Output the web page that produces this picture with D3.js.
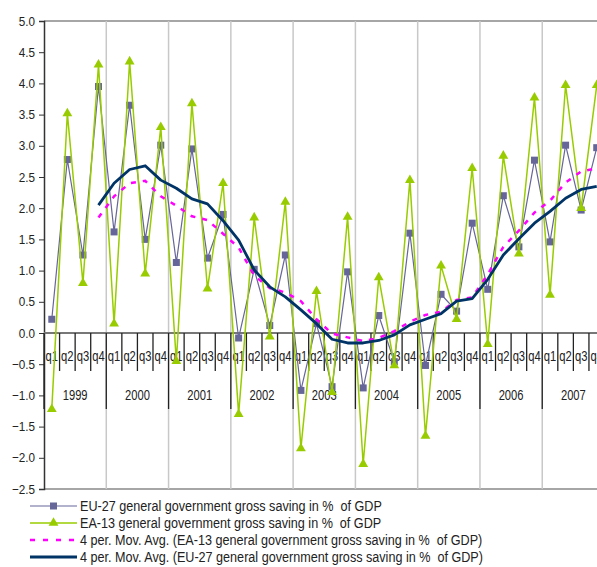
<!DOCTYPE html>
<html>
<head>
<meta charset="utf-8">
<script src="https://cdn.jsdelivr.net/npm/d3@7/dist/d3.min.js"></script>
<style>
  body { margin: 0; background: #fff; }
  svg { display: block; font-family: "Liberation Sans", Arial, sans-serif; }
</style>
</head>
<body>
<svg width="597" height="567"></svg>
<script>
// quarters 1999q1 .. 2007q4
const years = ["1999", "2000", "2001", "2002", "2003", "2004", "2005", "2006", "2007"];
const quarterNames = ["q1", "q2", "q3", "q4"];

// EU-27 general government gross saving in % of GDP
const eu27 = [0.22, 2.78, 1.25, 3.95, 1.62, 3.65, 1.50, 3.01, 1.13, 2.95, 1.20, 1.90,
  -0.08, 1.02, 0.12, 1.25, -0.92, 0.15, -0.86, 0.98, -0.88, 0.28, -0.46, 1.60,
  -0.52, 0.62, 0.35, 1.76, 0.70, 2.20, 1.38, 2.77, 1.46, 3.01, 1.97, 2.97];

// EA-13 general government gross saving in % of GDP
const ea13 = [-1.22, 3.52, 0.80, 4.30, 0.15, 4.35, 0.95, 3.30, -0.45, 3.68, 0.71, 2.40,
  -1.30, 1.85, -0.06, 2.10, -1.85, 0.67, -0.95, 1.86, -2.10, 0.89, -0.52, 2.45,
  -1.65, 1.08, 0.22, 2.64, -0.18, 2.84, 1.27, 3.77, 0.61, 3.97, 2.00, 3.97];

// 4 period moving averages (start at 1999q4)
const eu27Avg = [null, null, null, 2.05, 2.40, 2.62, 2.68, 2.45, 2.32, 2.15, 2.07, 1.80,
  1.49, 1.01, 0.74, 0.58, 0.37, 0.15, -0.10, -0.16, -0.16, -0.12, -0.03, 0.13,
  0.22, 0.31, 0.51, 0.55, 0.86, 1.25, 1.51, 1.76, 1.95, 2.16, 2.30, 2.35];
const ea13Avg = [null, null, null, 1.85, 2.19, 2.40, 2.44, 2.19, 2.04, 1.87, 1.81, 1.59,
  1.37, 0.92, 0.72, 0.65, 0.51, 0.22, -0.01, -0.07, -0.13, -0.08, 0.03, 0.18,
  0.29, 0.34, 0.53, 0.57, 0.94, 1.38, 1.64, 1.93, 2.12, 2.41, 2.59, 2.64];

const yTicks = [5.0, 4.5, 4.0, 3.5, 3.0, 2.5, 2.0, 1.5, 1.0, 0.5, 0.0, -0.5, -1.0, -1.5, -2.0, -2.5];

const legendLabels = [
  "EU-27 general government gross saving in %  of GDP",
  "EA-13 general government gross saving in %  of GDP",
  "4 per. Mov. Avg. (EA-13 general government gross saving in %  of GDP)",
  "4 per. Mov. Avg. (EU-27 general government gross saving in %  of GDP)"
];

// squeeze text horizontally to look like the narrow font of the original
function condense(sel, factor) {
  sel.each(function () {
    let w = this.getComputedTextLength();
    d3.select(this).attr("textLength", w * factor).attr("lengthAdjust", "spacingAndGlyphs");
  });
}

function run() {
  let svg = d3.select("svg");
  let left = 44, top = 21, bottom = 489;
  let qWidth = 15.57;

  let quarters = [];
  years.forEach(y => quarterNames.forEach(q => quarters.push(y + q)));

  let x = d3.scaleBand().domain(quarters).range([left, left + qWidth * quarters.length]);
  let y = d3.scaleLinear().domain([-2.5, 5]).range([bottom, top]);
  let cx = i => x(quarters[i]) + x.bandwidth() / 2;

  let colEU = "#666699", colEA = "#99cc00", colEAavg = "#ff00ff", colEUavg = "#003366";

  // frame: top and bottom grey lines
  svg.append("line").attr("x1", left).attr("x2", 597).attr("y1", top).attr("y2", top)
    .attr("stroke", "#888").attr("stroke-width", 1.5);
  svg.append("line").attr("x1", left).attr("x2", 597).attr("y1", bottom).attr("y2", bottom)
    .attr("stroke", "#888").attr("stroke-width", 1.5);

  // vertical gridlines at year boundaries
  svg.append("g").selectAll("line")
    .data(years.slice(1))
    .join("line")
    .attr("x1", d => x(d + "q1")).attr("x2", d => x(d + "q1"))
    .attr("y1", top).attr("y2", bottom)
    .attr("stroke", "#c8c8c8").attr("stroke-width", 1.5);

  // y axis
  let yAxis = d3.axisLeft(y).tickValues(yTicks).tickFormat(d3.format(".1f")).tickSize(5).tickPadding(4);
  let ya = svg.append("g").attr("transform", `translate(${left},0)`).call(yAxis);
  ya.select(".domain").attr("stroke", "#333").attr("stroke-width", 1.5);
  ya.selectAll(".tick line").attr("stroke", "#333");
  ya.selectAll("text").attr("font-size", 13).attr("fill", "#222")
    .style("font-family", "'Liberation Sans', Arial, sans-serif")
    .call(condense, 0.9);

  // category axis at zero
  let y0 = y(0);
  svg.append("line").attr("x1", left).attr("x2", 597).attr("y1", y0).attr("y2", y0)
    .attr("stroke", "#777").attr("stroke-width", 2);

  let xg = svg.append("g");
  xg.selectAll("line.q")
    .data(quarters)
    .join("line")
    .attr("class", "q")
    .attr("x1", d => x(d)).attr("x2", d => x(d))
    .attr("y1", y0).attr("y2", d => d.endsWith("q1") ? y0 + 76 : y0 + 38)
    .attr("stroke", "#222").attr("stroke-width", 1.3);
  xg.selectAll("text.q")
    .data(quarters)
    .join("text")
    .attr("class", "q")
    .attr("x", d => x(d) + x.bandwidth() / 2)
    .attr("y", y0 + 28)
    .attr("text-anchor", "middle")
    .attr("font-size", 14)
    .attr("fill", "#222")
    .text(d => d.slice(4))
    .call(condense, 0.8);
  xg.selectAll("text.yr")
    .data(years)
    .join("text")
    .attr("class", "yr")
    .attr("x", d => x(d + "q1") + x.bandwidth() * 2)
    .attr("y", y0 + 67)
    .attr("text-anchor", "middle")
    .attr("font-size", 14)
    .attr("fill", "#222")
    .text(d => d)
    .call(condense, 0.8);

  let line = d3.line()
    .defined(d => d != null)
    .x((d, i) => cx(i))
    .y(d => y(d));

  let tri = d3.symbol().type(d3.symbolTriangle).size(42);

  // EU-27 series
  svg.append("path").datum(eu27).attr("d", line)
    .attr("fill", "none").attr("stroke", colEU).attr("stroke-width", 1.2);
  svg.append("g").selectAll("rect")
    .data(eu27)
    .join("rect")
    .attr("x", (d, i) => cx(i) - 3.5).attr("y", d => y(d) - 3.5)
    .attr("width", 7).attr("height", 7)
    .attr("fill", colEU);

  // EA-13 series
  svg.append("path").datum(ea13).attr("d", line)
    .attr("fill", "none").attr("stroke", colEA).attr("stroke-width", 1.5);
  svg.append("g").selectAll("path")
    .data(ea13)
    .join("path")
    .attr("d", tri)
    .attr("transform", (d, i) => `translate(${cx(i)},${y(d)})`)
    .attr("fill", colEA);

  // moving averages
  svg.append("path").datum(ea13Avg).attr("d", line)
    .attr("fill", "none").attr("stroke", colEAavg).attr("stroke-width", 2.5)
    .attr("stroke-dasharray", "5,7");
  svg.append("path").datum(eu27Avg).attr("d", line)
    .attr("fill", "none").attr("stroke", colEUavg).attr("stroke-width", 2.8)
    .attr("stroke-linejoin", "round");

  // legend
  let lg = svg.append("g").selectAll("g")
    .data(legendLabels)
    .join("g")
    .attr("transform", (d, i) => `translate(0,${506 + i * 17})`);
  lg.append("line")
    .attr("x1", 30).attr("x2", 77).attr("y1", 0).attr("y2", 0)
    .attr("stroke", (d, i) => [colEU, colEA, colEAavg, colEUavg][i])
    .attr("stroke-width", (d, i) => [1.2, 1.5, 2.5, 2.8][i])
    .attr("stroke-dasharray", (d, i) => i == 2 ? "5,8" : null);
  lg.filter((d, i) => i == 0).append("rect")
    .attr("x", 50).attr("y", -3.5).attr("width", 7).attr("height", 7).attr("fill", colEU);
  lg.filter((d, i) => i == 1).append("path")
    .attr("d", tri).attr("transform", "translate(53.5,0)").attr("fill", colEA);
  lg.append("text")
    .attr("x", 80).attr("y", 5)
    .attr("font-size", 14)
    .attr("fill", "#222")
    .style("white-space", "pre")
    .text(d => d)
    .call(condense, 0.9);
}

run();
</script>
</body>
</html>
